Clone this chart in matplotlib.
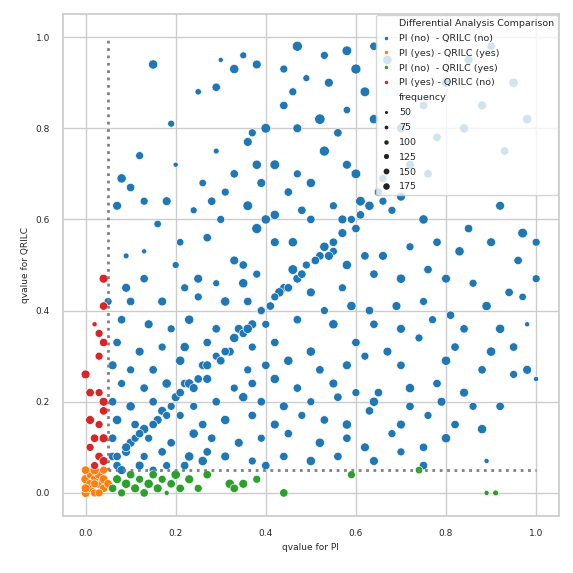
import matplotlib
matplotlib.use("Agg")
import matplotlib.pyplot as plt
from matplotlib.lines import Line2D
import seaborn as sns
import pandas as pd

sns.set_theme(style="whitegrid")
plt.rcParams.update({"font.size": 6.5, "axes.labelsize": 6.5, "xtick.labelsize": 6.5,
                     "ytick.labelsize": 6.5, "legend.fontsize": 6.5, "legend.title_fontsize": 6.5})

cat_nn = "PI (no)  - QRILC (no)"
cat_yy = "PI (yes) - QRILC (yes)"
cat_ny = "PI (no)  - QRILC (yes)"
cat_yn = "PI (yes) - QRILC (no)"
categories = [cat_nn, cat_yy, cat_ny, cat_yn]
colors = ["#1f77b4", "#ff7f0e", "#2ca02c", "#d62728"]
size_levels = [50, 75, 100, 125, 150, 175]

blue_pts = [
 (0.15,0.94,140),(0.30,0.95,60),(0.35,0.96,90),(0.38,0.94,130),(0.47,0.98,160),(0.53,0.96,110),(0.58,0.97,150),
 (0.64,0.98,120),(0.33,0.93,140),(0.44,0.93,110),(0.49,0.91,90),(0.60,0.93,160),(0.67,0.95,140),(0.25,0.88,80),
 (0.29,0.89,120),(0.46,0.88,110),(0.54,0.90,130),(0.62,0.88,150),(0.44,0.85,120),(0.52,0.82,170),(0.58,0.84,100),
 (0.47,0.80,130),(0.19,0.81,90),(0.37,0.79,110),(0.40,0.80,150),(0.56,0.79,120),(0.64,0.82,140),(0.29,0.75,70),
 (0.36,0.77,130),(0.12,0.74,110),(0.20,0.72,60),(0.33,0.70,120),(0.38,0.72,140),(0.42,0.72,150),(0.47,0.70,110),
 (0.53,0.75,160),(0.58,0.72,130),(0.08,0.69,140),(0.10,0.67,120),(0.26,0.68,100),(0.31,0.66,110),(0.39,0.68,130),
 (0.45,0.66,120),(0.50,0.68,140),(0.60,0.70,150),(0.66,0.69,120),(0.13,0.64,110),(0.18,0.64,130),(0.24,0.62,90),
 (0.28,0.64,120),(0.36,0.63,150),(0.42,0.61,140),(0.48,0.62,120),(0.55,0.63,110),(0.07,0.63,130),(0.16,0.59,100),
 (0.30,0.60,110),(0.38,0.58,160),(0.40,0.60,140),(0.50,0.60,120),(0.57,0.60,130),(0.61,0.64,150),(0.68,0.62,110),
 (0.75,0.60,140),(0.85,0.58,120),(0.92,0.63,130),(0.97,0.57,150),(1.00,0.55,110),(0.21,0.55,100),(0.27,0.56,120),
 (0.42,0.55,130),(0.46,0.55,140),(0.52,0.52,120),(0.55,0.53,110),(0.13,0.53,60),(0.09,0.52,70),(0.20,0.50,90),
 (0.33,0.51,130),(0.35,0.50,120),(0.38,0.48,110),(0.46,0.49,150),(0.58,0.50,140),(0.62,0.52,120),(0.66,0.52,130),
 (0.72,0.54,110),(0.78,0.55,120),(0.83,0.53,140),(0.90,0.55,130),(0.96,0.51,120),(1.00,0.47,110),(0.09,0.45,130),
 (0.13,0.47,120),(0.22,0.45,110),(0.25,0.47,130),(0.29,0.46,90),(0.35,0.46,140),(0.44,0.45,120),(0.50,0.44,130),
 (0.57,0.45,110),(0.64,0.48,120),(0.70,0.47,140),(0.76,0.49,120),(0.80,0.47,130),(0.86,0.46,110),(0.94,0.44,120),
 (0.97,0.43,100),(0.05,0.42,110),(0.10,0.42,120),(0.17,0.42,130),(0.25,0.43,110),(0.31,0.42,140),(0.36,0.42,120),
 (0.39,0.40,130),(0.53,0.40,110),(0.59,0.41,140),(0.63,0.40,120),(0.69,0.41,130),(0.75,0.42,110),(0.81,0.39,120),
 (0.89,0.41,140),(0.08,0.38,120),(0.14,0.37,130),(0.19,0.36,110),(0.23,0.38,140),(0.29,0.36,120),(0.34,0.36,130),
 (0.40,0.37,110),(0.47,0.38,120),(0.55,0.37,140),(0.64,0.37,120),(0.70,0.36,130),(0.77,0.38,110),(0.84,0.36,120),
 (0.92,0.36,140),(0.98,0.37,60),(0.07,0.33,120),(0.12,0.31,130),(0.17,0.32,110),(0.22,0.32,140),(0.27,0.33,120),
 (0.32,0.31,130),(0.37,0.32,110),(0.42,0.33,120),(0.50,0.31,140),(0.60,0.33,120),(0.67,0.31,130),(0.74,0.34,110),
 (0.82,0.32,120),(0.90,0.31,140),(0.95,0.32,120),(0.06,0.28,130),(0.10,0.27,110),(0.15,0.27,120),(0.21,0.29,140),
 (0.26,0.28,120),(0.30,0.29,130),(0.36,0.27,110),(0.40,0.28,120),(0.45,0.29,140),(0.52,0.27,120),(0.58,0.28,130),
 (0.62,0.30,110),(0.70,0.28,120),(0.80,0.29,140),(0.88,0.27,120),(0.98,0.27,130),(0.08,0.24,110),(0.13,0.23,120),
 (0.18,0.24,140),(0.22,0.24,120),(0.27,0.25,130),(0.33,0.23,110),(0.37,0.24,120),(0.42,0.25,140),(0.47,0.23,120),
 (0.55,0.24,130),(0.60,0.22,110),(0.65,0.22,120),(0.72,0.23,140),(0.78,0.24,120),(0.84,0.22,130),(0.95,0.26,110),
 (1.00,0.25,60),(0.06,0.20,120),(0.10,0.19,140),(0.15,0.20,120),(0.20,0.21,130),(0.24,0.19,110),(0.29,0.20,120),
 (0.35,0.21,140),(0.39,0.20,120),(0.44,0.19,130),(0.50,0.20,110),(0.56,0.21,120),(0.64,0.20,140),(0.72,0.19,120),
 (0.79,0.20,130),(0.86,0.19,110),(0.92,0.19,120),(0.07,0.16,140),(0.11,0.15,120),(0.16,0.16,130),(0.21,0.17,110),
 (0.26,0.15,120),(0.31,0.16,140),(0.37,0.17,120),(0.42,0.15,130),(0.48,0.17,110),(0.53,0.16,120),(0.58,0.15,140),
 (0.63,0.18,120),(0.70,0.15,130),(0.76,0.17,110),(0.82,0.15,120),(0.88,0.14,140),(0.06,0.12,120),(0.10,0.11,130),
 (0.14,0.12,110),(0.19,0.11,120),(0.24,0.13,140),(0.28,0.12,120),(0.34,0.11,130),(0.39,0.12,110),(0.45,0.13,120),
 (0.52,0.11,140),(0.58,0.12,120),(0.62,0.10,130),(0.68,0.13,110),(0.75,0.10,120),(0.80,0.12,140),(0.06,0.08,120),
 (0.09,0.09,130),(0.13,0.08,110),(0.17,0.09,120),(0.23,0.08,140),(0.27,0.09,120),(0.31,0.08,130),(0.37,0.07,110),
 (0.44,0.08,120),(0.50,0.07,140),(0.56,0.08,120),(0.64,0.07,130),(0.70,0.09,110),(0.75,0.06,120),(0.89,0.07,60),
 (0.07,0.06,120),(0.12,0.06,130),(0.18,0.06,110),(0.22,0.06,120),(0.26,0.07,140),(0.40,0.06,120),(0.08,0.05,130),
 (0.15,0.05,110),
 (0.07,0.08,120),(0.09,0.10,130),(0.11,0.12,110),(0.13,0.14,140),(0.15,0.15,120),(0.17,0.18,130),(0.19,0.19,110),
 (0.21,0.22,120),(0.23,0.24,140),(0.25,0.25,120),(0.27,0.28,130),(0.29,0.30,110),(0.31,0.31,120),(0.33,0.34,140),
 (0.35,0.35,120),(0.37,0.37,130),(0.39,0.40,110),(0.41,0.41,120),(0.43,0.44,140),(0.45,0.45,120),(0.47,0.47,130),
 (0.49,0.50,110),(0.51,0.51,120),(0.53,0.54,140),(0.55,0.55,120),(0.57,0.57,130),(0.59,0.60,110),(0.61,0.61,120),
 (0.63,0.63,140),(0.65,0.66,120),(0.12,0.13,120),(0.18,0.17,110),(0.24,0.23,130),(0.30,0.29,120),(0.36,0.36,140),
 (0.42,0.43,110),(0.48,0.48,120),(0.54,0.52,130),(0.60,0.58,120),(0.66,0.64,110),
 (0.70,0.80,130),(0.75,0.85,120),(0.80,0.90,140),(0.85,0.95,130),(0.90,0.98,120),(0.95,0.90,140),(0.72,0.72,130),
 (0.78,0.78,120),(0.84,0.80,140),(0.88,0.85,130),(0.93,0.75,120),(0.98,0.82,140),(0.70,0.65,130),(0.76,0.70,120),
]
orange_pts = [
 (0.00,0.00,130),(0.01,0.01,120),(0.02,0.00,110),(0.03,0.02,130),(0.04,0.01,120),(0.00,0.03,140),(0.01,0.04,110),
 (0.02,0.03,120),(0.03,0.04,130),(0.04,0.05,110),(0.00,0.05,120),(0.02,0.05,140),(0.01,0.02,120),(0.03,0.00,110),
 (0.04,0.03,130),(0.05,0.02,120),(0.02,0.02,110),(0.00,0.01,130),
]
green_pts = [
 (0.06,0.01,120),(0.07,0.03,130),(0.08,0.00,110),(0.09,0.02,140),(0.10,0.04,120),(0.11,0.01,130),(0.12,0.03,110),
 (0.13,0.00,120),(0.14,0.02,140),(0.15,0.04,120),(0.16,0.01,130),(0.17,0.03,110),(0.18,0.00,60),(0.19,0.02,120),
 (0.20,0.04,140),(0.21,0.01,120),(0.23,0.03,130),(0.25,0.01,110),(0.27,0.04,120),(0.32,0.02,140),(0.33,0.01,120),
 (0.35,0.02,130),(0.38,0.03,110),(0.44,0.00,120),(0.59,0.04,110),(0.74,0.05,100),(0.89,0.00,60),(0.91,0.00,70),
]
red_pts = [
 (0.04,0.47,130),(0.04,0.41,120),(0.02,0.37,60),(0.03,0.35,110),(0.04,0.33,120),(0.03,0.30,110),(0.00,0.26,130),
 (0.01,0.22,120),(0.03,0.22,110),(0.04,0.20,130),(0.04,0.18,120),(0.01,0.16,130),(0.03,0.15,110),(0.02,0.12,120),
 (0.04,0.12,130),(0.01,0.10,110),(0.03,0.08,120),(0.04,0.07,130),(0.02,0.06,110),
]

rows = []
for cat, pts in zip(categories, [blue_pts, orange_pts, green_pts, red_pts]):
    for x, y, f in pts:
        rows.append({"PI": x, "QRILC": y, "Differential Analysis Comparison": cat, "frequency": f})
df = pd.DataFrame(rows)

fig, ax = plt.subplots(figsize=(5.73, 5.73), dpi=100)
sns.scatterplot(data=df, x="PI", y="QRILC", hue="Differential Analysis Comparison",
                hue_order=categories, palette=colors, size="frequency", sizes=(6, 60),
                size_norm=(40, 180), ax=ax, legend=False)
ax.plot([0.05, 0.05], [0.05, 1.0], ":", color="gray", lw=2)
ax.plot([0.05, 1.0], [0.05, 0.05], ":", color="gray", lw=2)
ax.set_xlim(-0.05, 1.05)
ax.set_ylim(-0.05, 1.05)
ax.set_xlabel("qvalue for PI")
ax.set_ylabel("qvalue for QRILC")

handles = [Line2D([], [], ls="", marker="")]
labels = ["Differential Analysis Comparison"]
for c, cat in zip(colors, categories):
    handles.append(Line2D([], [], ls="", marker="o", color=c, ms=1.5))
    labels.append(cat)
handles.append(Line2D([], [], ls="", marker=""))
labels.append("frequency")
for i, s in enumerate(size_levels):
    handles.append(Line2D([], [], ls="", marker="o", color="#222222", ms=1.2 + 0.5 * i))
    labels.append(str(s))
ax.legend(handles, labels, loc="upper right", fontsize=6.8, framealpha=0.8,
          borderaxespad=0.1, handlelength=1.2, handletextpad=0.8, labelspacing=0.62)
fig.subplots_adjust(left=0.11, right=0.975, top=0.975, bottom=0.1)
fig.savefig("out.png", dpi=100)
